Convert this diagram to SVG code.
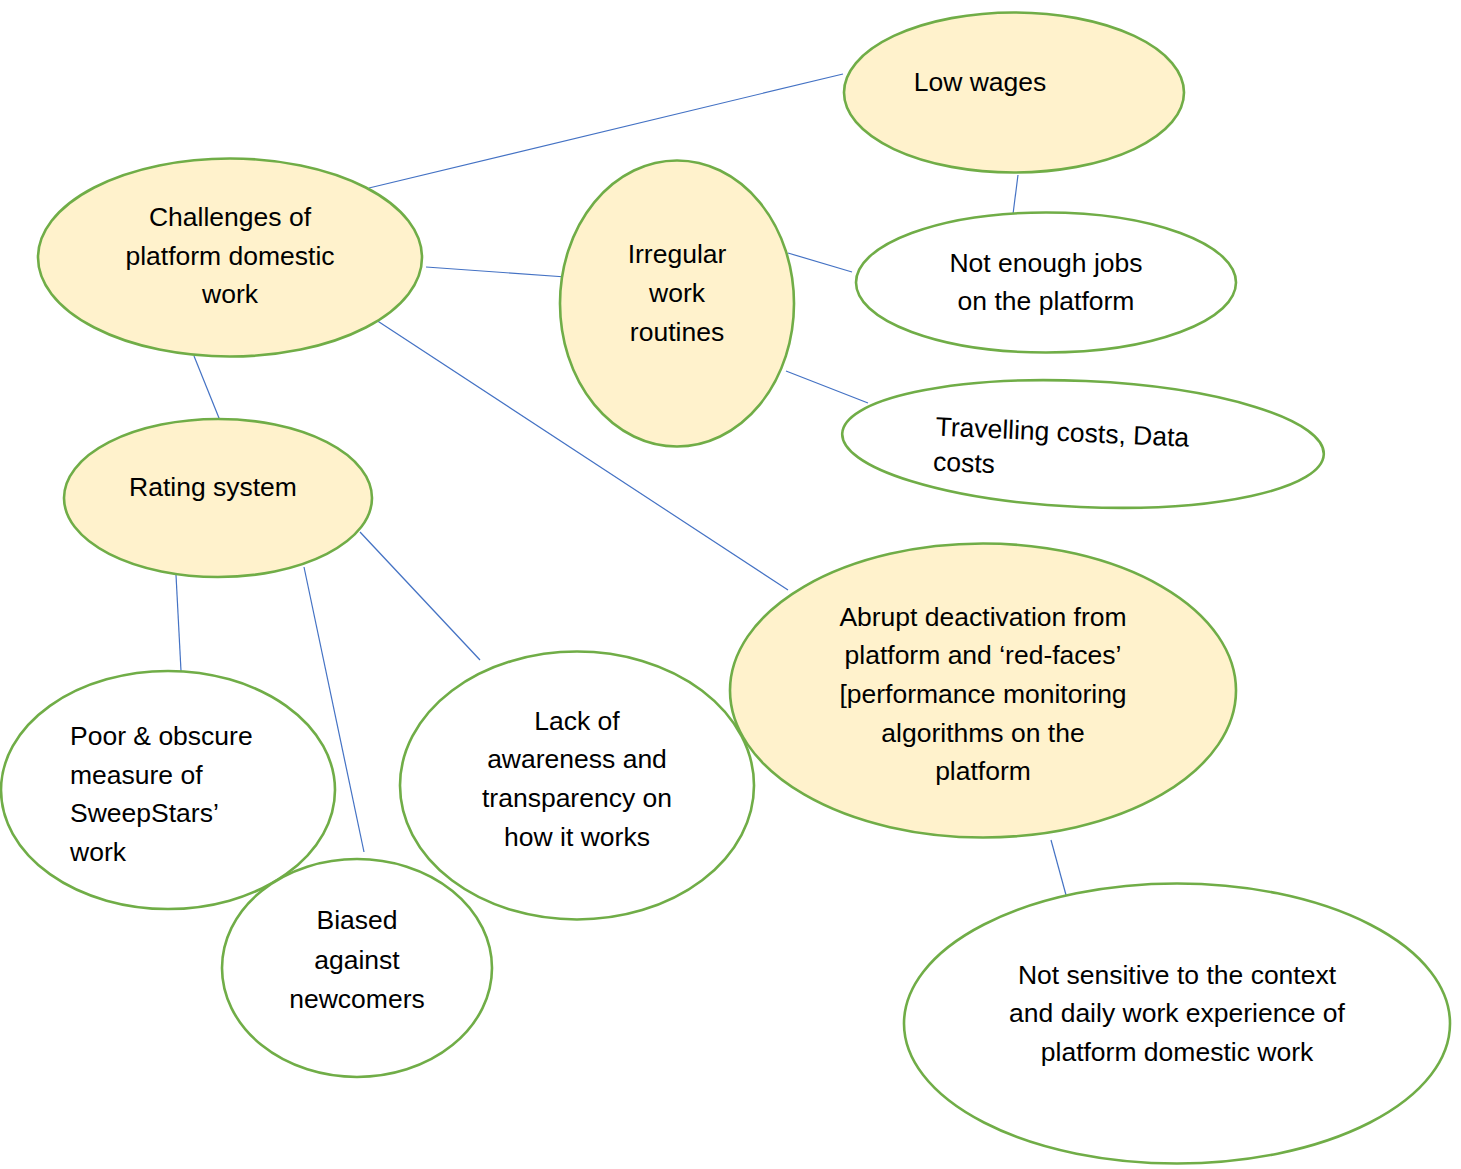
<svg xmlns="http://www.w3.org/2000/svg" width="1461" height="1169" viewBox="0 0 1461 1169">
  <style>
    .bg { fill: #ffffff; }
    .link { stroke: #4472C4; stroke-width: 1.2; fill: none; }
    .core { fill: #FFF2CC; stroke: #70AD47; stroke-width: 2.6; }
    .leaf { fill: #ffffff; stroke: #70AD47; stroke-width: 2.6; }
    text { font-family: "Liberation Sans", Arial, sans-serif; font-size: 26.5px; fill: #000000; }
    .c { text-anchor: middle; }
  </style>
  <rect class="bg" x="0" y="0" width="1461" height="1169"/>

  <!-- connectors -->
  <g id="connectors">
    <line class="link" x1="369" y1="188" x2="843" y2="74"/>
    <line class="link" x1="426" y1="267" x2="566" y2="277"/>
    <line class="link" x1="373" y1="318" x2="788" y2="590"/>
    <line class="link" x1="194" y1="356" x2="221" y2="423"/>
    <line class="link" x1="1018" y1="175" x2="1013" y2="214"/>
    <line class="link" x1="788" y1="253" x2="852" y2="272"/>
    <line class="link" x1="786" y1="371" x2="868" y2="403"/>
    <line class="link" x1="176" y1="575" x2="181" y2="671"/>
    <line class="link" x1="304" y1="567" x2="364" y2="852"/>
    <line class="link" x1="360" y1="532" x2="480" y2="660"/>
    <line class="link" x1="1051" y1="840" x2="1066" y2="895"/>
  </g>

  <g id="low-wages">
    <ellipse class="core" cx="1014" cy="92.5" rx="170" ry="80"/>
    <text class="c" x="980" y="91">Low wages</text>
  </g>

  <g id="challenges">
    <ellipse class="core" cx="230" cy="257.5" rx="192" ry="99"/>
    <text class="c" x="230" y="226">Challenges of</text>
    <text class="c" x="230" y="265">platform domestic</text>
    <text class="c" x="230" y="303">work</text>
  </g>

  <g id="irregular-routines">
    <ellipse class="core" cx="677" cy="303.5" rx="117" ry="143"/>
    <text class="c" x="677" y="263">Irregular</text>
    <text class="c" x="677" y="302">work</text>
    <text class="c" x="677" y="341">routines</text>
  </g>

  <g id="not-enough-jobs">
    <ellipse class="leaf" cx="1046" cy="282.5" rx="190" ry="70"/>
    <text class="c" x="1046" y="272">Not enough jobs</text>
    <text class="c" x="1046" y="310">on the platform</text>
  </g>

  <g id="travel-data-costs" transform="rotate(2.5 1083 444)">
    <ellipse class="leaf" cx="1083" cy="444" rx="241" ry="63"/>
    <text x="935" y="442">Travelling costs, Data</text>
    <text x="934" y="477">costs</text>
  </g>

  <g id="rating-system">
    <ellipse class="core" cx="218" cy="498" rx="154" ry="79"/>
    <text class="c" x="213" y="496">Rating system</text>
  </g>

  <g id="poor-measure">
    <ellipse class="leaf" cx="168" cy="790" rx="167" ry="119"/>
    <text x="70" y="745">Poor &amp; obscure</text>
    <text x="70" y="784">measure of</text>
    <text x="70" y="822">SweepStars’</text>
    <text x="70" y="861">work</text>
  </g>

  <g id="biased-newcomers">
    <ellipse class="leaf" cx="357" cy="968" rx="135" ry="109"/>
    <text class="c" x="357" y="929">Biased</text>
    <text class="c" x="357" y="969">against</text>
    <text class="c" x="357" y="1008">newcomers</text>
  </g>

  <g id="lack-awareness">
    <ellipse class="leaf" cx="577" cy="785.5" rx="177" ry="134"/>
    <text class="c" x="577" y="730">Lack of</text>
    <text class="c" x="577" y="768">awareness and</text>
    <text class="c" x="577" y="807">transparency on</text>
    <text class="c" x="577" y="846">how it works</text>
  </g>

  <g id="abrupt-deactivation">
    <ellipse class="core" cx="983" cy="690.5" rx="253" ry="147"/>
    <text class="c" x="983" y="626">Abrupt deactivation from</text>
    <text class="c" x="983" y="664">platform and ‘red-faces’</text>
    <text class="c" x="983" y="703">[performance monitoring</text>
    <text class="c" x="983" y="742">algorithms on the</text>
    <text class="c" x="983" y="780">platform</text>
  </g>

  <g id="not-sensitive">
    <ellipse class="leaf" cx="1177" cy="1023.5" rx="273" ry="140"/>
    <text class="c" x="1177" y="984">Not sensitive to the context</text>
    <text class="c" x="1177" y="1022">and daily work experience of</text>
    <text class="c" x="1177" y="1061">platform domestic work</text>
  </g>
</svg>
